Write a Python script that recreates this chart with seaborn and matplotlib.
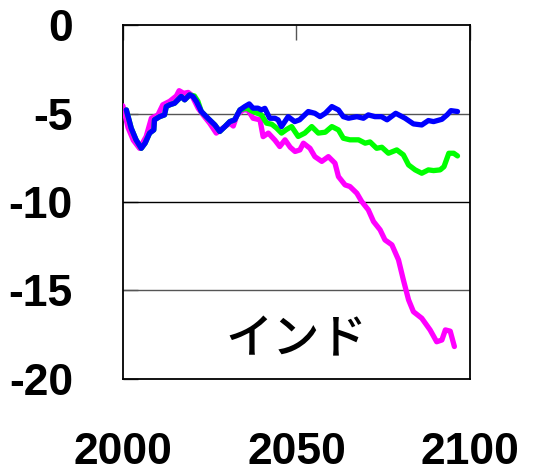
import pandas as pd
import seaborn as sns
import matplotlib.pyplot as plt

# magenta scenario
mag_year = [2000, 2001.5, 2003, 2004.8, 2006.7, 2008.2, 2010.1, 2011.5, 2013.5, 2015.4, 2016.2, 2017.5,
            2018.8, 2019.8, 2021.7, 2023.1, 2025, 2026.9, 2028.9, 2030.8, 2031.8, 2032.9, 2034.6, 2036,
            2037.5, 2039.5, 2040.4, 2041.9, 2043.8, 2045.2, 2046.7, 2048.2, 2049.6, 2051, 2052, 2053.9,
            2055.3, 2057.3, 2059.2, 2061.1, 2062.1, 2064, 2065.4, 2067.4, 2068.8, 2070.7, 2072.2, 2074.1,
            2075.5, 2077.5, 2079.4, 2080.8, 2082.3, 2083.7, 2086.1, 2088.5, 2090.4, 2091.9, 2092.9,
            2094.3, 2095.5]
mag_val = [-4.56, -5.8, -6.5, -6.96, -6.3, -5.26, -5.07, -4.5, -4.3, -4.0, -3.7, -3.85,
           -3.8, -3.95, -4.7, -5.07, -5.54, -6.1, -5.8, -5.54, -5.7, -5.07, -4.79, -4.79,
           -5.26, -5.35, -6.3, -6.1, -6.5, -6.86, -6.48, -6.9, -7.14, -7.05, -6.67, -6.96,
           -7.43, -7.7, -7.43, -7.8, -8.56, -9.03, -9.12, -9.5, -9.97, -10.44, -11.1, -11.57,
           -12.14, -12.42, -13.27, -14.4, -15.53, -16.2, -16.57, -17.23, -17.9, -17.8, -17.23,
           -17.3, -18.17]

# blue scenario
blue_year = [2001, 2002.4, 2003.8, 2005.3, 2006.4, 2007.7, 2008.9, 2009.1, 2010.6, 2012, 2012.5, 2013.5,
             2014.9, 2016.8, 2017.8, 2019.2, 2020.2, 2021.2, 2022.6, 2024.5, 2026.5, 2027.9, 2029.4,
             2030.8, 2032.2, 2033.7, 2035.1, 2036.4, 2037.5, 2038.9, 2039.9, 2040.9, 2042.3, 2043.8,
             2044.7, 2045.7, 2047.6, 2049.5, 2050.9, 2053.4, 2055.3, 2056.8, 2058.3, 2060.2, 2062.1,
             2063.5, 2065, 2067.4, 2069.3, 2070.7, 2072.6, 2074.5, 2076.1, 2078.6, 2081.3, 2083.7,
             2086.1, 2088, 2089.5, 2091.9, 2093.4, 2094.5, 2096.4]
blue_val = [-4.79, -5.82, -6.48, -6.96, -6.67, -6.1, -5.92, -5.35, -5.17, -5.07, -4.6, -4.5,
            -4.41, -4.03, -4.22, -3.94, -4.03, -4.32, -4.88, -5.26, -5.64, -6.01, -5.73,
            -5.45, -5.35, -4.79, -4.6, -4.45, -4.69, -4.69, -4.79, -4.7, -5.26, -5.26,
            -5.35, -5.73, -5.17, -5.45, -5.35, -4.88, -4.98, -5.17, -4.98, -4.6, -4.79,
            -5.17, -5.26, -5.17, -5.26, -5.07, -5.17, -5.17, -5.35, -4.98, -5.26, -5.58,
            -5.64, -5.39, -5.45, -5.32, -5.07, -4.83, -4.88]

# green scenario
green_year = [2001, 2002.4, 2003.8, 2005.3, 2006.4, 2007.7, 2008.9, 2009.1, 2010.6, 2012, 2012.5, 2013.5,
              2014.9, 2016.8, 2017.8, 2019.2, 2020.6, 2021.6, 2022.6, 2024.5, 2026.5, 2027.9, 2029.4,
              2030.8, 2032.2, 2033.7, 2035.6, 2037.5, 2039.9, 2041.4, 2042.9, 2044.3, 2045.7, 2047.1,
              2048.6, 2050.5, 2052.4, 2054.4, 2056.3, 2058.3, 2060.2, 2062.1, 2063.5, 2065.4, 2067.9,
              2069.8, 2071.2, 2073.1, 2074.6, 2076.5, 2078.9, 2080.8, 2082.3, 2084.2, 2086.1, 2088,
              2089.5, 2091.4, 2092.5, 2093.9, 2095.3, 2096.4]
green_val = [-4.79, -5.82, -6.48, -6.96, -6.67, -6.1, -5.92, -5.35, -5.17, -5.07, -4.6, -4.5,
             -4.41, -4.03, -4.22, -3.94, -4.0, -4.3, -4.88, -5.26, -5.64, -6.01, -5.73,
             -5.45, -5.35, -4.79, -4.69, -4.88, -5.07, -5.54, -5.6, -5.82, -6.1, -5.9,
             -5.73, -6.29, -6.1, -5.73, -6.1, -6.05, -5.73, -5.92, -6.39, -6.48, -6.48,
             -6.67, -6.6, -6.96, -6.9, -7.24, -7.05, -7.33, -7.9, -8.18, -8.37, -8.18,
             -8.22, -8.18, -8.0, -7.24, -7.24, -7.39]

series = ["magenta", "green", "blue"]
colors = ["#ff00ff", "#00ff00", "#0000ff"]
label = "インド"
x_ticks = [2000, 2050, 2100]
y_ticks = [0, -5, -10, -15, -20]
grid_levels = [-5, -10, -15]

df = pd.concat([
    pd.DataFrame({"year": mag_year, "value": mag_val, "series": "magenta"}),
    pd.DataFrame({"year": green_year, "value": green_val, "series": "green"}),
    pd.DataFrame({"year": blue_year, "value": blue_val, "series": "blue"}),
])

sns.set_theme(style="white")
plt.rcParams["font.family"] = ["Liberation Sans", "DejaVu Sans"]
plt.rcParams["axes.unicode_minus"] = False

fig = plt.figure(figsize=(5.39, 4.76), dpi=100)
ax = fig.add_axes([0.228, 0.204, 0.644, 0.743])

for lvl in grid_levels:
    ax.axhline(lvl, color="black" if lvl == -10 else "#555555", lw=1.0, zorder=1)

sns.lineplot(data=df, x="year", y="value", hue="series", hue_order=series,
             palette=dict(zip(series, colors)), sort=False, estimator=None,
             lw=3.8, legend=False, ax=ax, zorder=3)

ax.set_xlim(2000, 2100)
ax.set_ylim(-20, 0)
ax.set_xticks(x_ticks)
ax.set_yticks(y_ticks)
ax.set_xlabel("")
ax.set_ylabel("")
ax.tick_params(axis="x", bottom=False, top=True, direction="in", length=11, width=1,
               color="#555555", labelsize=32, labelcolor="black", pad=38)
ax.tick_params(axis="y", left=True, direction="in", length=11, width=1,
               color="#555555", labelsize=32, labelcolor="black", pad=36)
for t in ax.get_xticklabels() + ax.get_yticklabels():
    t.set_fontweight("bold")
for s in ax.spines.values():
    s.set_color("black")
    s.set_linewidth(1.3)

ax.text(2050, -17.8, label, ha="center", va="center", fontsize=34,
        family=["Noto Sans CJK JP", "DejaVu Sans"], fontweight="medium", color="black")

fig.savefig("out.png", dpi=100)
